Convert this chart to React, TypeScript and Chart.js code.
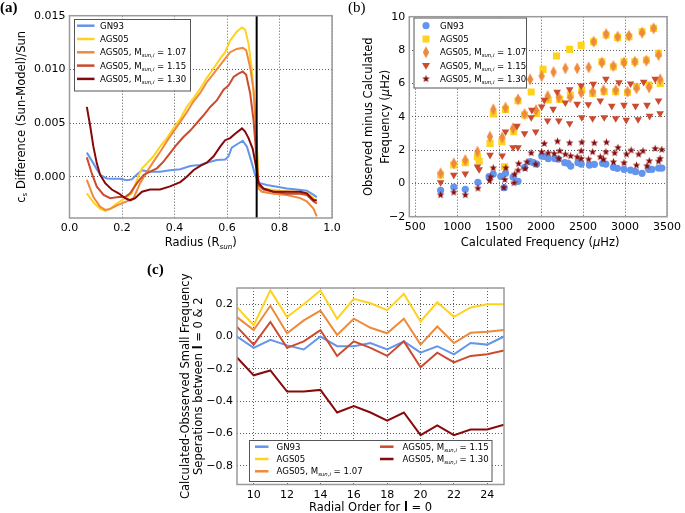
import React, { useEffect, useRef } from 'react';
import { Chart, registerables } from 'chart.js';

Chart.register(...registerables);

const W = 685;
const H = 513;
const SANS = '"DejaVu Sans", sans-serif';
const SERIF = '"Liberation Serif", "DejaVu Serif", serif';

const C_GN93 = '#6495ED';
const C_AGS = '#FFD21F';
const C_107 = '#EE8A3C';
const C_115 = '#CC4A2E';
const C_130 = '#870A0A';

// ---------------- Panel (a): sound speed difference vs radius ----------------
const radiusGN93 = [0.066, 0.091, 0.117, 0.142, 0.168, 0.193, 0.218, 0.237, 0.257, 0.276, 0.307, 0.345, 0.383, 0.422, 0.46, 0.498, 0.523, 0.561, 0.593, 0.606, 0.618, 0.637, 0.66, 0.676, 0.695, 0.707, 0.716, 0.726, 0.752, 0.79, 0.828, 0.866, 0.904, 0.93, 0.942];
const diffGN93 = [0.00224, 0.00124, 0.00016, -0.00016, -0.0002, -0.0002, -0.00034, -0.00025, 0.0002, 0.0006, 0.00047, 0.00047, 0.0006, 0.0007, 0.001, 0.0011, 0.0013, 0.00155, 0.0016, 0.0019, 0.0027, 0.003, 0.00335, 0.0028, 0.00124, 0.00016, -0.0003, -0.0006, -0.00078, -0.00093, -0.0011, -0.0012, -0.0013, -0.0017, -0.0019];

const radiusAGS = [0.066, 0.091, 0.117, 0.136, 0.155, 0.18, 0.212, 0.237, 0.257, 0.276, 0.295, 0.32, 0.345, 0.371, 0.396, 0.422, 0.447, 0.472, 0.498, 0.523, 0.549, 0.574, 0.593, 0.612, 0.637, 0.657, 0.669, 0.682, 0.695, 0.707, 0.714, 0.72, 0.733, 0.764, 0.803, 0.853, 0.904, 0.93, 0.942];
const diffAGS = [-0.00155, -0.0024, -0.003, -0.0032, -0.003, -0.0025, -0.002, -0.00155, -0.0003, 0.00078, 0.00124, 0.0019, 0.0028, 0.0036, 0.0045, 0.0054, 0.0065, 0.0073, 0.0082, 0.0092, 0.0101, 0.011, 0.0116, 0.0127, 0.0135, 0.0139, 0.0137, 0.0124, 0.0099, 0.0059, 0.0028, -0.0006, -0.0011, -0.0012, -0.0013, -0.0014, -0.0015, -0.002, -0.0023];

const radius107 = [0.066, 0.091, 0.117, 0.136, 0.155, 0.187, 0.218, 0.244, 0.269, 0.295, 0.32, 0.345, 0.371, 0.396, 0.422, 0.447, 0.472, 0.498, 0.523, 0.549, 0.574, 0.593, 0.612, 0.637, 0.66, 0.673, 0.688, 0.701, 0.711, 0.72, 0.733, 0.777, 0.828, 0.879, 0.904, 0.93, 0.942];
const diff107 = [-0.0003, -0.0019, -0.0028, -0.0031, -0.003, -0.0026, -0.0023, -0.002, -0.0006, 0.00047, 0.0014, 0.0023, 0.0033, 0.0042, 0.0051, 0.006, 0.007, 0.0078, 0.0088, 0.0096, 0.0104, 0.011, 0.0116, 0.0119, 0.012, 0.0118, 0.0102, 0.0081, 0.0043, -0.0011, -0.0014, -0.0016, -0.0017, -0.002, -0.0023, -0.003, -0.0037];

const radius115 = [0.066, 0.085, 0.104, 0.13, 0.155, 0.187, 0.212, 0.231, 0.257, 0.282, 0.307, 0.333, 0.358, 0.383, 0.409, 0.434, 0.46, 0.485, 0.51, 0.536, 0.561, 0.587, 0.606, 0.625, 0.644, 0.66, 0.673, 0.688, 0.701, 0.711, 0.72, 0.739, 0.777, 0.828, 0.879, 0.904, 0.93, 0.942];
const diff115 = [0.0018, 0.0003, -0.00093, -0.0017, -0.002, -0.0019, -0.0019, -0.00155, -0.0006, 0.00016, 0.00047, 0.00078, 0.0014, 0.0022, 0.003, 0.0037, 0.0043, 0.005, 0.0057, 0.0065, 0.0071, 0.0081, 0.0085, 0.0093, 0.0096, 0.0098, 0.0095, 0.0078, 0.0053, 0.0022, -0.0008, -0.0012, -0.0014, -0.0016, -0.0016, -0.0017, -0.0023, -0.0025];

const radius130 = [0.066, 0.079, 0.091, 0.104, 0.117, 0.136, 0.161, 0.187, 0.212, 0.231, 0.25, 0.276, 0.307, 0.345, 0.383, 0.422, 0.447, 0.472, 0.498, 0.523, 0.549, 0.574, 0.593, 0.612, 0.631, 0.657, 0.669, 0.682, 0.698, 0.711, 0.72, 0.739, 0.777, 0.828, 0.879, 0.904, 0.93, 0.942];
const diff130 = [0.0065, 0.0047, 0.0028, 0.00124, 0.00016, -0.0006, -0.0012, -0.00155, -0.002, -0.0022, -0.002, -0.0014, -0.0012, -0.0012, -0.0009, -0.0005, 0.0, 0.0006, 0.001, 0.0013, 0.0019, 0.0028, 0.0034, 0.0036, 0.004, 0.0045, 0.0042, 0.0036, 0.0026, 0.0009, -0.0006, -0.0011, -0.0014, -0.0014, -0.0014, -0.00155, -0.0022, -0.0022];

const bczRadius = 0.713;
const aXTicks = [0, 0.2, 0.4, 0.6, 0.8, 1.0];
const aYTicks = [0, 0.005, 0.01, 0.015];

// ---------------- Panel (b): observed minus calculated frequencies ----------------
const freqGN93 = [803, 960, 1097, 1247, 1380, 1430, 1520, 1560, 1576, 1666, 1725, 1803, 1870, 1909, 1948, 2007, 2040, 2086, 2165, 2204, 2282, 2321, 2353, 2439, 2478, 2576, 2635, 2733, 2772, 2862, 2909, 2988, 3066, 3125, 3203, 3282, 3321, 3400, 3439];
const omcGN93 = [-0.42, -0.22, -0.36, 0.06, 0.4, 0.56, 0.42, -0.26, 0.6, 0.38, 0.12, 0.96, 1.3, 1.24, 1.16, 1.64, 1.62, 1.48, 1.48, 1.46, 1.24, 1.2, 1.04, 1.24, 1.16, 1.1, 1.14, 1.2, 1.16, 0.96, 0.9, 0.84, 0.8, 0.7, 0.6, 0.84, 0.84, 0.92, 0.92];

const freqAGS = [803, 960, 1097, 1242, 1262, 1392, 1431, 1533, 1565, 1576, 1674, 1725, 1803, 1882, 1948, 2023, 2085, 2183, 2223, 2340, 2348, 2477, 2485, 2614, 2626, 2724, 2752, 2775, 2861, 2889, 2912, 2987, 3030, 3046, 3117, 3137, 3203, 3254, 3286, 3340, 3399, 3419];
const omcAGS = [0.5, 1.1, 1.24, 1.6, 1.34, 2.4, 4.16, 2.5, 1.0, 4.44, 3.1, 4.96, 4.1, 5.48, 4.2, 6.84, 5.0, 7.64, 5.04, 8.04, 5.3, 8.28, 5.6, 5.4, 8.5, 7.3, 5.5, 8.9, 7.0, 5.5, 8.75, 7.3, 5.45, 8.8, 7.3, 5.8, 9.1, 7.4, 5.9, 9.3, 7.8, 6.0];

const freq107 = [803, 960, 1097, 1242, 1390, 1431, 1537, 1576, 1666, 1725, 1803, 1870, 1940, 2007, 2078, 2148, 2211, 2289, 2348, 2430, 2477, 2567, 2614, 2626, 2724, 2744, 2775, 2861, 2889, 2912, 2987, 3030, 3046, 3117, 3137, 3203, 3254, 3286, 3340, 3399, 3419];
const omc107 = [0.6, 1.2, 1.4, 1.9, 2.8, 4.44, 2.76, 4.54, 3.3, 5.04, 4.16, 6.24, 4.4, 6.44, 5.24, 6.68, 5.16, 6.9, 5.16, 6.9, 5.44, 6.96, 5.5, 8.5, 7.24, 5.6, 8.96, 7.04, 5.6, 8.8, 7.24, 5.5, 8.86, 7.3, 5.7, 9.04, 7.36, 5.76, 9.3, 7.7, 6.24];

const freq115 = [803, 960, 1097, 1242, 1262, 1392, 1537, 1576, 1666, 1713, 1725, 1803, 1882, 1890, 1936, 2007, 2038, 2077, 2144, 2191, 2211, 2289, 2340, 2340, 2430, 2477, 2485, 2563, 2614, 2622, 2705, 2752, 2772, 2842, 2889, 2928, 2987, 3014, 3066, 3125, 3156, 3222, 3262, 3293, 3359, 3399, 3418];
const omc115 = [0.06, 0.5, 0.58, 1.0, 0.84, 1.7, 1.66, 3.1, 2.16, 3.44, 2.16, 3.0, 3.96, 4.4, 3.1, 4.6, 5.0, 3.76, 4.46, 5.48, 3.76, 4.84, 5.64, 3.6, 4.76, 5.86, 3.96, 4.74, 3.9, 5.96, 4.96, 3.96, 6.26, 4.64, 3.9, 6.06, 4.7, 3.8, 5.98, 4.64, 3.84, 6.08, 4.7, 4.04, 6.26, 4.96, 4.2];

const freq130 = [803, 960, 1097, 1247, 1387, 1399, 1430, 1556, 1568, 1580, 1677, 1685, 1725, 1733, 1810, 1831, 1882, 1936, 2007, 2038, 2085, 2156, 2195, 2211, 2222, 2289, 2340, 2352, 2430, 2477, 2477, 2485, 2567, 2614, 2634, 2705, 2744, 2772, 2779, 2862, 2877, 2916, 2987, 3018, 3073, 3136, 3163, 3214, 3261, 3289, 3359, 3399, 3418, 3438];
const omc130 = [-0.68, -0.52, -0.68, -0.28, 0.18, 0.4, 0.94, -0.24, 0.24, 0.94, 0.04, 0.56, 0.8, 1.2, 0.9, 1.3, 1.84, 1.16, 1.9, 2.4, 1.84, 1.8, 2.54, 1.5, 1.96, 1.76, 2.44, 1.66, 1.6, 1.96, 1.5, 2.48, 1.46, 1.9, 2.44, 1.6, 1.46, 1.9, 2.48, 1.3, 1.84, 2.16, 1.24, 1.76, 2.0, 1.1, 1.76, 1.96, 1.06, 1.36, 2.1, 1.34, 1.5, 2.04];

const bXTicks = [500, 1000, 1500, 2000, 2500, 3000, 3500];
const bYTicks = [-2, 0, 2, 4, 6, 8, 10];

// ---------------- Panel (c): small frequency separations ----------------
const radialOrder = [9, 10, 11, 12, 13, 14, 15, 16, 17, 18, 19, 20, 21, 22, 23, 24, 25];
const sepGN93 = [0.0, -0.07, -0.02, -0.055, -0.08, 0.0, -0.06, -0.06, -0.04, -0.08, -0.03, -0.1, -0.06, -0.11, -0.04, -0.05, 0.0];
const sepAGS = [0.18, 0.07, 0.285, 0.12, 0.2, 0.285, 0.11, 0.233, 0.206, 0.163, 0.264, 0.093, 0.212, 0.122, 0.18, 0.2, 0.2];
const sep107 = [0.12, 0.04, 0.19, 0.02, 0.1, 0.16, 0.01, 0.11, 0.054, 0.02, 0.11, -0.05, 0.062, -0.04, 0.023, 0.03, 0.04];
const sep115 = [0.06, -0.05, 0.09, -0.07, -0.03, 0.04, -0.12, -0.03, -0.07, -0.12, -0.03, -0.19, -0.1, -0.16, -0.12, -0.11, -0.087];
const sep130 = [-0.13, -0.24, -0.21, -0.34, -0.34, -0.33, -0.47, -0.43, -0.47, -0.52, -0.47, -0.61, -0.55, -0.61, -0.575, -0.575, -0.545];

const cXTicks = [10, 12, 14, 16, 18, 20, 22, 24];
const cYTicks = [-0.8, -0.6, -0.4, -0.2, 0, 0.2];

// ---------------- helpers ----------------
type Seg = { t: string; sub?: boolean; it?: boolean; b?: boolean };
type Area = { l: number; t: number; r: number; b: number };

const YW = 50;
const XH = 20;
const TICK_SIZE = 11;
const TITLE_SIZE = 11.5;
const LEG_SIZE = 8.6;

function segFont(size: number, s: Seg) {
  const sz = s.sub ? size * 0.62 : size;
  return `${s.it ? 'italic ' : ''}${s.b ? 'bold ' : ''}${sz}px ${SANS}`;
}
function richWidth(ctx: CanvasRenderingContext2D, segs: Seg[], size: number) {
  let w = 0;
  for (const s of segs) {
    ctx.font = segFont(size, s);
    w += ctx.measureText(s.t).width;
  }
  return w;
}
function drawRich(ctx: CanvasRenderingContext2D, segs: Seg[], x: number, yMid: number, size: number, align: 'left' | 'center') {
  const w = richWidth(ctx, segs, size);
  let cx = align === 'center' ? x - w / 2 : x;
  const base = yMid + size * 0.36;
  ctx.fillStyle = '#000';
  ctx.textAlign = 'left';
  ctx.textBaseline = 'alphabetic';
  for (const s of segs) {
    ctx.font = segFont(size, s);
    ctx.fillText(s.t, cx, s.sub ? base + size * 0.22 : base);
    cx += ctx.measureText(s.t).width;
  }
}
function drawRotated(ctx: CanvasRenderingContext2D, segs: Seg[], cx: number, cy: number, size: number) {
  ctx.save();
  ctx.translate(cx, cy);
  ctx.rotate(-Math.PI / 2);
  drawRich(ctx, segs, 0, 0, size, 'center');
  ctx.restore();
}
function drawPanelLabel(ctx: CanvasRenderingContext2D, t: string, x: number, y: number, bold: boolean) {
  ctx.save();
  ctx.font = `${bold ? 'bold ' : ''}15px ${SERIF}`;
  ctx.fillStyle = '#000';
  ctx.textAlign = 'left';
  ctx.textBaseline = 'alphabetic';
  ctx.fillText(t, x, y);
  ctx.restore();
}
function drawFrame(chart: Chart) {
  const { ctx, chartArea: a } = chart;
  ctx.save();
  ctx.strokeStyle = '#9a9a9a';
  ctx.lineWidth = 1.5;
  ctx.strokeRect(a.left, a.top, a.right - a.left, a.bottom - a.top);
  ctx.restore();
}
function drawBox(ctx: CanvasRenderingContext2D, x0: number, y0: number, x1: number, y1: number) {
  ctx.save();
  ctx.fillStyle = '#fff';
  ctx.strokeStyle = '#555';
  ctx.lineWidth = 1;
  ctx.fillRect(x0, y0, x1 - x0, y1 - y0);
  ctx.strokeRect(x0 + 0.5, y0 + 0.5, x1 - x0, y1 - y0);
  ctx.restore();
}
function drawLegendLine(ctx: CanvasRenderingContext2D, x0: number, x1: number, y: number, color: string) {
  ctx.save();
  ctx.strokeStyle = color;
  ctx.lineWidth = 2.5;
  ctx.beginPath();
  ctx.moveTo(x0, y);
  ctx.lineTo(x1, y);
  ctx.stroke();
  ctx.restore();
}
const massLabel = (m: string): Seg[] => [{ t: 'AGS05, M' }, { t: 'sun,i', sub: true, it: true }, { t: ' = ' + m }];
const fmtMinus = (v: number, d: number) => (v < -1e-9 ? '\u2212' : '') + Math.abs(v).toFixed(d);

function padFor(a: Area) {
  return { left: a.l - YW, top: a.t, right: W - a.r, bottom: H - a.b - XH };
}
function scaleCfg(axis: 'x' | 'y', min: number, max: number, ticks: number[], fmt: (v: number) => string): any {
  return {
    type: 'linear',
    min,
    max,
    afterBuildTicks: (s: any) => {
      s.ticks = ticks.map((v) => ({ value: v }));
    },
    afterFit: (s: any) => {
      if (axis === 'x') s.height = XH;
      else s.width = YW;
    },
    ticks: {
      font: { family: SANS, size: TICK_SIZE },
      color: '#000',
      padding: 4,
      maxRotation: 0,
      autoSkip: false,
      callback: (v: any) => fmt(Number(v)),
    },
    grid: { color: '#333', lineWidth: 0.8, drawTicks: false },
    border: { display: false, dash: [1, 2] },
  };
}
function lineDs(label: string, xs: number[], ys: number[], color: string, order: number) {
  return {
    label,
    data: xs.map((x, i) => ({ x, y: ys[i] })),
    borderColor: color,
    backgroundColor: color,
    borderWidth: 2,
    pointRadius: 0,
    showLine: true,
    fill: false,
    tension: 0,
    order,
  };
}
function makeImg(w: number, h: number, draw: (g: CanvasRenderingContext2D) => void) {
  const c = document.createElement('canvas');
  c.width = w;
  c.height = h;
  const g = c.getContext('2d')!;
  draw(g);
  return c;
}

const AREA_A: Area = { l: 69.5, t: 15.7, r: 332, b: 218 };
const AREA_B: Area = { l: 409.3, t: 16.7, r: 671, b: 216.7 };
const AREA_C: Area = { l: 237, t: 288, r: 504, b: 484.5 };

export default function App() {
  const refA = useRef<HTMLCanvasElement>(null);
  const refB = useRef<HTMLCanvasElement>(null);
  const refC = useRef<HTMLCanvasElement>(null);

  useEffect(() => {
    const diamondImg = makeImg(8, 13, (g) => {
      g.fillStyle = C_107;
      g.beginPath();
      g.moveTo(4, 0.5);
      g.lineTo(7.2, 6.5);
      g.lineTo(4, 12.5);
      g.lineTo(0.8, 6.5);
      g.closePath();
      g.fill();
    });
    const starImg = makeImg(9, 9, (g) => {
      g.fillStyle = C_130;
      g.beginPath();
      for (let i = 0; i < 10; i++) {
        const r = i % 2 === 0 ? 4 : 1.7;
        const ang = -Math.PI / 2 + (i * Math.PI) / 5;
        const px = 4.5 + r * Math.cos(ang);
        const py = 4.8 + r * Math.sin(ang);
        if (i === 0) g.moveTo(px, py);
        else g.lineTo(px, py);
      }
      g.closePath();
      g.fill();
    });

    // ---- Panel (a)
    const pluginA = {
      id: 'extrasA',
      afterDatasetsDraw(chart: any) {
        const { ctx, chartArea: a } = chart;
        const x = chart.scales.x.getPixelForValue(bczRadius);
        ctx.save();
        ctx.strokeStyle = '#000';
        ctx.lineWidth = 2;
        ctx.beginPath();
        ctx.moveTo(x, a.top);
        ctx.lineTo(x, a.bottom);
        ctx.stroke();
        ctx.restore();
      },
      afterDraw(chart: any) {
        const ctx = chart.ctx as CanvasRenderingContext2D;
        drawFrame(chart);
        drawBox(ctx, 74, 19, 190, 90.5);
        const rows: [Seg[], string][] = [
          [[{ t: 'GN93' }], C_GN93],
          [[{ t: 'AGS05' }], C_AGS],
          [massLabel('1.07'), C_107],
          [massLabel('1.15'), C_115],
          [massLabel('1.30'), C_130],
        ];
        rows.forEach(([segs, col], i) => {
          const y = 25.7 + i * 13.3;
          drawLegendLine(ctx, 77, 94.5, y, col);
          drawRich(ctx, segs, 100, y, LEG_SIZE, 'left');
        });
        drawRich(ctx, [{ t: 'Radius (R' }, { t: 'sun', sub: true, it: true }, { t: ')' }], (AREA_A.l + AREA_A.r) / 2, 242, TITLE_SIZE, 'center');
        drawRotated(ctx, [{ t: 'c' }, { t: 's', sub: true }, { t: ' Difference (Sun-Model)/Sun' }], 20.5, (AREA_A.t + AREA_A.b) / 2, TITLE_SIZE);
        drawPanelLabel(ctx, '(a)', 0, 12, true);
      },
    };

    const chartA = new Chart(refA.current!, {
      type: 'scatter',
      data: {
        datasets: [
          lineDs('GN93', radiusGN93, diffGN93, C_GN93, 5),
          lineDs('AGS05', radiusAGS, diffAGS, C_AGS, 4),
          lineDs('AGS05, Msun,i = 1.07', radius107, diff107, C_107, 3),
          lineDs('AGS05, Msun,i = 1.15', radius115, diff115, C_115, 2),
          lineDs('AGS05, Msun,i = 1.30', radius130, diff130, C_130, 1),
        ] as any,
      },
      options: {
        animation: false,
        responsive: false,
        devicePixelRatio: 1,
        layout: { padding: padFor(AREA_A) },
        plugins: { legend: { display: false }, tooltip: { enabled: false } },
        scales: {
          x: scaleCfg('x', 0, 1, aXTicks, (v) => v.toFixed(1)),
          y: scaleCfg('y', -0.00385, 0.015, aYTicks, (v) => fmtMinus(v, 3)),
        },
      },
      plugins: [pluginA],
    });

    // ---- Panel (b)
    const pluginB = {
      id: 'extrasB',
      afterDraw(chart: any) {
        const ctx = chart.ctx as CanvasRenderingContext2D;
        drawFrame(chart);
        drawBox(ctx, 413.5, 17.5, 526, 87.5);
        const mx = 426;
        const rowY = (i: number) => 25.7 + i * 13.3;
        ctx.save();
        ctx.fillStyle = C_GN93;
        ctx.beginPath();
        ctx.arc(mx, rowY(0), 3.6, 0, Math.PI * 2);
        ctx.fill();
        ctx.fillStyle = C_AGS;
        ctx.fillRect(mx - 3.5, rowY(1) - 3.5, 7, 7);
        ctx.drawImage(diamondImg, mx - 4, rowY(2) - 6.5);
        ctx.fillStyle = C_115;
        ctx.beginPath();
        ctx.moveTo(mx - 4, rowY(3) - 2.5);
        ctx.lineTo(mx + 4, rowY(3) - 2.5);
        ctx.lineTo(mx, rowY(3) + 4.2);
        ctx.closePath();
        ctx.fill();
        ctx.drawImage(starImg, mx - 4.5, rowY(4) - 4.8);
        ctx.restore();
        const labels: Seg[][] = [[{ t: 'GN93' }], [{ t: 'AGS05' }], massLabel('1.07'), massLabel('1.15'), massLabel('1.30')];
        labels.forEach((segs, i) => drawRich(ctx, segs, 440, rowY(i), LEG_SIZE, 'left'));
        drawRich(ctx, [{ t: 'Calculated Frequency (' }, { t: '\u03bc', it: true }, { t: 'Hz)' }], (AREA_B.l + AREA_B.r) / 2, 242, TITLE_SIZE, 'center');
        const cy = (AREA_B.t + AREA_B.b) / 2;
        drawRotated(ctx, [{ t: 'Observed minus Calculated' }], 368, cy, TITLE_SIZE);
        drawRotated(ctx, [{ t: 'Frequency (' }, { t: '\u03bc', it: true }, { t: 'Hz)' }], 384.5, cy, TITLE_SIZE);
        drawPanelLabel(ctx, '(b)', 348, 12, false);
      },
    };

    const pts = (xs: number[], ys: number[]) => xs.map((x, i) => ({ x, y: ys[i] }));
    const chartB = new Chart(refB.current!, {
      type: 'scatter',
      data: {
        datasets: [
          { label: 'GN93', data: pts(freqGN93, omcGN93), pointStyle: 'circle', pointRadius: 3.6, backgroundColor: C_GN93, borderWidth: 0, order: 5 },
          { label: 'AGS05', data: pts(freqAGS, omcAGS), pointStyle: 'rect', pointRadius: 5, backgroundColor: C_AGS, borderWidth: 0, order: 4 },
          { label: 'AGS05, Msun,i = 1.07', data: pts(freq107, omc107), pointStyle: diamondImg, pointRadius: 5, backgroundColor: C_107, borderWidth: 0, order: 3 },
          { label: 'AGS05, Msun,i = 1.15', data: pts(freq115, omc115), pointStyle: 'triangle', rotation: 180, pointRadius: 4.4, backgroundColor: C_115, borderWidth: 0, order: 2 },
          { label: 'AGS05, Msun,i = 1.30', data: pts(freq130, omc130), pointStyle: starImg, pointRadius: 4.5, backgroundColor: C_130, borderWidth: 0, order: 1 },
        ] as any,
      },
      options: {
        animation: false,
        responsive: false,
        devicePixelRatio: 1,
        layout: { padding: padFor(AREA_B) },
        plugins: { legend: { display: false }, tooltip: { enabled: false } },
        scales: {
          x: scaleCfg('x', 430, 3500, bXTicks, (v) => String(Math.round(v))),
          y: scaleCfg('y', -2, 10, bYTicks, (v) => fmtMinus(v, 0)),
        },
      },
      plugins: [pluginB],
    });

    // ---- Panel (c)
    const pluginC = {
      id: 'extrasC',
      afterDraw(chart: any) {
        const ctx = chart.ctx as CanvasRenderingContext2D;
        drawFrame(chart);
        drawBox(ctx, 249, 440, 491.5, 481);
        const col1: [Seg[], string][] = [
          [[{ t: 'GN93' }], C_GN93],
          [[{ t: 'AGS05' }], C_AGS],
          [massLabel('1.07'), C_107],
        ];
        const col2: [Seg[], string][] = [
          [massLabel('1.15'), C_115],
          [massLabel('1.30'), C_130],
        ];
        col1.forEach(([segs, col], i) => {
          const y = 446.7 + i * 12.3;
          drawLegendLine(ctx, 255, 268.5, y, col);
          drawRich(ctx, segs, 276.5, y, LEG_SIZE, 'left');
        });
        col2.forEach(([segs, col], i) => {
          const y = 446.7 + i * 12.3;
          drawLegendLine(ctx, 380, 393.5, y, col);
          drawRich(ctx, segs, 402.5, y, LEG_SIZE, 'left');
        });
        drawRich(ctx, [{ t: 'Radial Order for ' }, { t: 'l', b: true }, { t: ' = 0' }], (AREA_C.l + AREA_C.r) / 2, 506.5, TITLE_SIZE, 'center');
        const cy = (AREA_C.t + AREA_C.b) / 2;
        drawRotated(ctx, [{ t: 'Calculated-Obsserved Small Frequency' }], 185, cy, TITLE_SIZE);
        drawRotated(ctx, [{ t: 'Seperations between ' }, { t: 'l', b: true }, { t: ' = 0 & 2' }], 197.5, cy, TITLE_SIZE);
        drawPanelLabel(ctx, '(c)', 147, 274, true);
      },
    };

    const chartC = new Chart(refC.current!, {
      type: 'scatter',
      data: {
        datasets: [
          lineDs('GN93', radialOrder, sepGN93, C_GN93, 5),
          lineDs('AGS05', radialOrder, sepAGS, C_AGS, 4),
          lineDs('AGS05, Msun,i = 1.07', radialOrder, sep107, C_107, 3),
          lineDs('AGS05, Msun,i = 1.15', radialOrder, sep115, C_115, 2),
          lineDs('AGS05, Msun,i = 1.30', radialOrder, sep130, C_130, 1),
        ] as any,
      },
      options: {
        animation: false,
        responsive: false,
        devicePixelRatio: 1,
        layout: { padding: padFor(AREA_C) },
        plugins: { legend: { display: false }, tooltip: { enabled: false } },
        scales: {
          x: scaleCfg('x', 9, 25, cXTicks, (v) => String(Math.round(v))),
          y: scaleCfg('y', -0.915, 0.3, cYTicks, (v) => fmtMinus(v, 1)),
        },
      },
      plugins: [pluginC],
    });

    return () => {
      chartA.destroy();
      chartB.destroy();
      chartC.destroy();
    };
  }, []);

  const cs: React.CSSProperties = { position: 'absolute', left: 0, top: 0, width: W, height: H };
  return (
    <div style={{ position: 'absolute', left: 0, top: 0, width: W, height: H, background: '#fff' }}>
      <canvas ref={refA} width={W} height={H} style={cs} />
      <canvas ref={refB} width={W} height={H} style={cs} />
      <canvas ref={refC} width={W} height={H} style={cs} />
    </div>
  );
}
